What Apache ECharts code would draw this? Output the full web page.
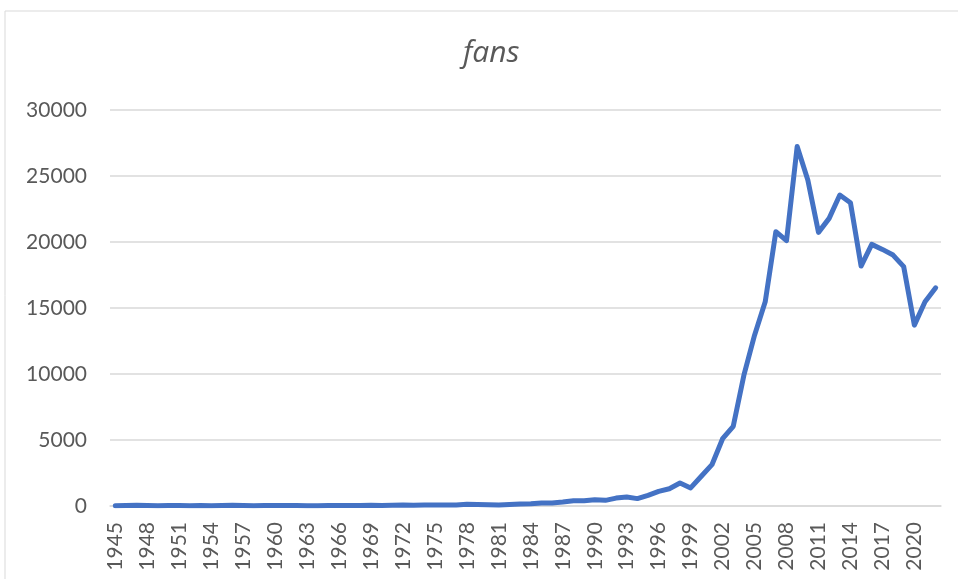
<!DOCTYPE html>
<html>
<head>
<meta charset="utf-8">
<script src="https://cdn.jsdelivr.net/npm/echarts@6/dist/echarts.min.js"></script>
<style>
  html, body { margin: 0; padding: 0; background: #fff; }
  #chart { width: 958px; height: 579px; }
</style>
</head>
<body>
<div id="chart"></div>
<script>
// years 1945..2022
const years = []
for (let y = 1945; y <= 2022; y++) years.push(String(y))

const fans = [
  10, 40, 50, 30, 20, 40, 30, 20, 30, 20,        // 1945-1954
  30, 50, 30, 20, 30, 40, 40, 30, 20, 20,        // 1955-1964
  30, 40, 30, 30, 50, 40, 60, 70, 60, 70,        // 1965-1974
  70, 80, 80, 130, 110, 100, 80, 120, 150, 170,  // 1975-1984
  220, 230, 300, 400, 400, 480, 430, 600, 680, 560, // 1985-1994
  810, 1110, 1310, 1740, 1370, 2250, 3130, 5100, 6040, 9910, // 1995-2004
  12940, 15470, 20780, 20100, 27230, 24700, 20730, 21790, 23560, 22980, // 2005-2014
  18180, 19820, 19440, 19010, 18130, 13700, 15470, 16530 // 2015-2022
]

const textColor = '#595959'
const gridColor = '#d9d9d9'

var myChart = echarts.init(document.getElementById('chart'))

const option = {
  animation: false,
  backgroundColor: '#fff',
  graphic: [{
    type: 'rect',
    shape: { x: 5, y: 11, width: 1000, height: 700 },
    style: { fill: 'none', stroke: gridColor, lineWidth: 1 },
    silent: true
  }],
  title: {
    text: 'fans',
    left: 458,
    top: 33,
    textStyle: {
      color: textColor,
      fontFamily: 'Open Sans',
      fontStyle: 'italic',
      fontWeight: 'normal',
      fontSize: 30
    }
  },
  grid: { left: 110, right: 17, top: 110, bottom: 73, containLabel: false },
  xAxis: {
    type: 'category',
    data: years,
    boundaryGap: true,
    axisLine: { lineStyle: { color: gridColor, width: 1.5 } },
    axisTick: { show: false },
    axisLabel: {
      interval: 2,
      rotate: 90,
      margin: 16,
      color: textColor,
      fontFamily: 'Lato',
      fontSize: 21
    }
  },
  yAxis: {
    type: 'value',
    min: 0,
    max: 30000,
    interval: 5000,
    axisLine: { show: false },
    axisTick: { show: false },
    splitLine: { lineStyle: { color: gridColor, width: 1.5 } },
    axisLabel: {
      margin: 23,
      color: textColor,
      fontFamily: 'Lato',
      fontSize: 21,
      formatter: (v) => String(v)
    }
  },
  series: [{
    name: 'fans',
    type: 'line',
    data: fans,
    symbol: 'none',
    lineStyle: { color: '#4472C4', width: 5, cap: 'round', join: 'round' }
  }]
}

myChart.setOption(option)
</script>
</body>
</html>
